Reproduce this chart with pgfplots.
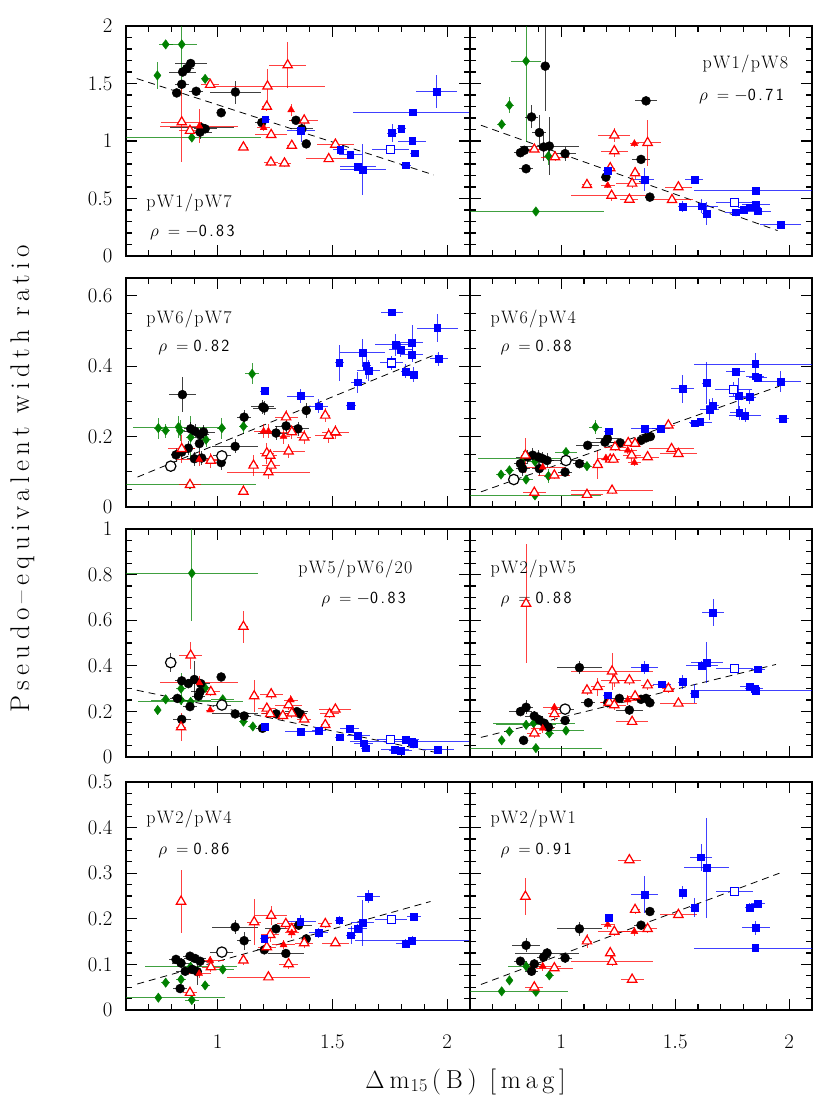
\documentclass[border=0pt]{standalone}
\usepackage{fontspec}
\usepackage{pgfplots}
\pgfplotsset{compat=1.18}
\definecolor{dgreen}{rgb}{0,0.5,0}
\pgfplotsset{
 eb/.style={error bars/x dir=both, error bars/x explicit, error bars/y dir=both, error bars/y explicit, error bars/error mark=none, error bars/error bar style={line width=0.9pt, opacity=0.75}},
 blk/.style={only marks, black, mark=*, mark size=4.5pt, eb},
 bopen/.style={only marks, black, mark=*, mark size=5.2pt, mark options={fill=white, draw=black, line width=1.2pt}, eb},
 grn/.style={only marks, dgreen, mark=diamond*, mark size=4.7pt, eb},
 ropen/.style={only marks, red, mark=triangle*, mark size=5.4pt, mark options={fill=white, draw=red, line width=1.2pt}, eb},
 rfill/.style={only marks, red, mark=triangle*, mark size=4pt, eb},
 blu/.style={only marks, blue, mark=square*, mark size=3.4pt, eb},
 bluopen/.style={only marks, blue, mark=square*, mark size=4pt, mark options={fill=white, draw=blue, line width=1.2pt}, eb},
 fitl/.style={black, line width=0.8pt, dash pattern=on 7pt off 5pt, no marks},
 panel/.style={scale only axis, anchor=north west,
   xmin=0.6, xmax=2.1, xtick={1,1.5,2},
   minor xtick={0.7,0.8,0.9,1.1,1.2,1.3,1.4,1.6,1.7,1.8,1.9},
   tick align=inside, major tick length=11pt, minor tick length=6pt,
   tick style={line width=1.1pt, black},
   axis line style={line width=1.4pt},
   tick label style={font=\fontsize{20}{20}\selectfont},
   yticklabel style={xshift=-10pt},
   xticklabel style={yshift=-22pt},
   clip=true},
 L/.style={width=344pt},
 R/.style={width=342pt, yticklabels={}},
 noX/.style={xticklabels={}},
 row1/.style={height=230pt, ymin=0, ymax=2, ytick={0,0.5,1,1.5,2}, minor y tick num=4},
 row2/.style={height=229pt, ymin=0, ymax=0.65, ytick={0,0.2,0.4,0.6}, minor y tick num=3},
 row3/.style={height=228pt, ymin=0, ymax=1, ytick={0,0.2,0.4,0.6,0.8,1}, minor y tick num=3},
 row4/.style={height=228pt, ymin=0, ymax=0.5, ytick={0,0.1,0.2,0.3,0.4,0.5}, minor y tick num=3},
}
\makeatletter
\newdimen\lsk
\def\lsw#1#2{\lsk=#1\relax\lsw@i#2\@nil}
\def\lsw@i#1{\ifx#1\@nil\else#1\kern\lsk\expandafter\lsw@i\fi}
\makeatother
\newcommand{\pl}[1]{{\fontsize{18}{18}\selectfont\lsw{1.3pt}{#1}}}
\newcommand{\rh}[2]{{\fontsize{17}{17}\selectfont$\rho$\hspace{9pt}{\sffamily=\hspace{5pt}#1\lsw{2.5pt}{#2}}}}
\begin{document}
\begin{tikzpicture}
\useasboundingbox (0,0) rectangle (830pt,-1106pt);
% ---------------- Panel 1: pW1/pW7
\begin{axis}[panel, L, row1, noX, at={(126pt,-26pt)}]
\addplot[fitl] coordinates {(0.647,1.543) (1.942,0.705)};
\addplot[grn] table[row sep=\\,x error=ex,y error=ey]{x y ex ey\\
0.773 1.84 0.03 0.03\\ 0.843 1.84 0.065 0.45\\ 0.737 1.57 0.01 0.12\\ 0.945 1.54 0.02 0.02\\ 0.887 1.03 0.3 0.03\\};
\addplot[blk] table[row sep=\\,x error=ex,y error=ey]{x y ex ey\\
0.821 1.418 0.02 0.02\\ 0.843 1.493 0.03 0.03\\ 0.847 1.60 0.06 0.03\\ 0.865 1.63 0.03 0.03\\ 0.882 1.674 0.07 0.03\\ 0.906 1.432 0.03 0.03\\ 0.93 1.115 0.14 0.05\\ 0.945 1.106 0.05 0.04\\ 0.923 1.077 0.05 0.06\\ 1.015 1.246 0.02 0.02\\ 1.077 1.426 0.11 0.1\\ 1.192 1.16 0.03 0.03\\ 1.341 1.18 0.03 0.03\\ 1.367 1.106 0.05 0.05\\ 1.386 0.975 0.02 0.02\\};
\addplot[ropen] table[row sep=\\,x error=ex,y error=ey]{x y ex ey\\
0.843 1.164 0.09 0.35\\ 0.879 1.09 0.05 0.05\\ 0.967 1.49 0.04 0.02\\ 1.112 0.946 0.02 0.02\\ 1.217 1.476 0.25 0.15\\ 1.214 1.30 0.02 0.04\\ 1.233 1.054 0.07 0.03\\ 1.232 0.815 0.03 0.03\\ 1.291 0.806 0.03 0.03\\ 1.305 1.66 0.08 0.2\\ 1.323 0.96 0.02 0.02\\ 1.377 1.18 0.06 0.04\\ 1.484 0.844 0.1 0.02\\ 1.513 0.97 0.08 0.02\\};
\addplot[rfill] table[row sep=\\,x error=ex,y error=ey]{x y ex ey\\
0.92 1.13 0.17 0.15\\ 1.32 1.27 0.01 0.05\\ 1.2 1.115 0.03 0.03\\};
\addplot[blu] table[row sep=\\,x error=ex,y error=ey]{x y ex ey\\
1.207 1.19 0.02 0.02\\ 1.363 1.09 0.06 0.1\\ 1.534 0.926 0.03 0.02\\ 1.578 0.882 0.05 0.02\\ 1.612 0.78 0.08 0.02\\ 1.632 0.75 0.1 0.22\\ 1.76 1.07 0.02 0.08\\ 1.80 1.11 0.02 0.03\\ 1.849 1.25 0.26 0.03\\ 1.848 1.0 0.06 0.03\\ 1.858 0.894 0.02 0.02\\ 1.821 0.79 0.02 0.01\\ 1.954 1.43 0.09 0.14\\};
\addplot[bluopen] table[row sep=\\,x error=ex,y error=ey]{x y ex ey\\ 1.753 0.923 0.08 0.02\\};
\node[anchor=base west] at (rel axis cs:0.049,0.209) {\pl{pW1/pW7}};
\node[anchor=base west] at (rel axis cs:0.06,0.083) {\rh{$-$}{0.83}};
\end{axis}
% ---------------- Panel 2: pW1/pW8
\begin{axis}[panel, R, row1, noX, at={(470pt,-26pt)}]
\addplot[fitl] coordinates {(0.648,1.137) (1.949,0.221)};
\addplot[grn] table[row sep=\\,x error=ex,y error=ey]{x y ex ey\\
0.846 1.695 0.065 0.7\\ 0.773 1.311 0.02 0.07\\ 0.739 1.145 0.02 0.03\\ 0.944 0.869 0.02 0.08\\ 0.889 0.387 0.3 0.03\\};
\addplot[blk] table[row sep=\\,x error=ex,y error=ey]{x y ex ey\\
0.93 1.651 0.02 0.39\\ 0.87 1.209 0.03 0.1\\ 0.904 1.073 0.03 0.15\\ 0.821 0.898 0.03 0.02\\ 0.838 0.919 0.03 0.02\\ 0.923 0.948 0.02 0.12\\ 0.948 0.956 0.13 0.25\\ 0.846 0.759 0.03 0.02\\ 1.017 0.89 0.05 0.06\\ 1.196 0.686 0.02 0.02\\ 1.35 0.84 0.04 0.02\\ 1.372 1.349 0.05 0.02\\ 1.389 0.512 0.02 0.02\\};
\addplot[ropen] table[row sep=\\,x error=ex,y error=ey]{x y ex ey\\
0.882 0.927 0.06 0.02\\ 0.973 0.86 0.06 0.03\\ 1.113 0.619 0.02 0.02\\ 1.215 0.765 0.02 0.05\\ 1.221 0.526 0.18 0.05\\ 1.233 1.049 0.07 0.06\\ 1.233 0.913 0.06 0.05\\ 1.299 0.491 0.04 0.02\\ 1.311 0.631 0.07 0.04\\ 1.324 0.721 0.02 0.05\\ 1.379 0.985 0.06 0.2\\ 1.486 0.488 0.09 0.02\\ 1.514 0.599 0.06 0.02\\};
\addplot[rfill] table[row sep=\\,x error=ex,y error=ey]{x y ex ey\\
1.204 0.613 0.03 0.02\\ 1.321 0.977 0.02 0.03\\};
\addplot[blu] table[row sep=\\,x error=ex,y error=ey]{x y ex ey\\
1.204 0.744 0.02 0.02\\ 1.365 0.663 0.04 0.1\\ 1.533 0.43 0.02 0.05\\ 1.584 0.666 0.04 0.02\\ 1.616 0.433 0.07 0.06\\ 1.638 0.366 0.02 0.1\\ 1.767 0.381 0.05 0.02\\ 1.8 0.401 0.05 0.02\\ 1.825 0.424 0.05 0.02\\ 1.854 0.57 0.27 0.02\\ 1.854 0.445 0.06 0.03\\ 1.862 0.39 0.06 0.02\\ 1.961 0.273 0.09 0.02\\};
\addplot[bluopen] table[row sep=\\,x error=ex,y error=ey]{x y ex ey\\ 1.759 0.468 0.08 0.02\\};
\node[anchor=base east] at (rel axis cs:0.944,0.817) {\pl{pW1/pW8}};
\node[anchor=base east] at (rel axis cs:0.935,0.678) {\rh{$-$}{0.71}};
\end{axis}
% ---------------- Panel 3: pW6/pW7
\begin{axis}[panel, L, row2, noX, at={(126pt,-278pt)}]
\addplot[fitl] coordinates {(0.65,0.085) (1.957,0.435)};
\addplot[grn] table[row sep=\\,x error=ex,y error=ey]{x y ex ey\\
0.741 0.224 0.02 0.03\\ 0.773 0.217 0.02 0.02\\ 0.829 0.227 0.2 0.03\\ 0.836 0.216 0.02 0.03\\ 0.882 0.198 0.02 0.06\\ 0.949 0.191 0.02 0.02\\ 1.018 0.224 0.02 0.03\\ 1.112 0.229 0.02 0.02\\ 1.15 0.378 0.03 0.03\\ 0.879 0.064 0.29 0.01\\};
\addplot[blk] table[row sep=\\,x error=ex,y error=ey]{x y ex ey\\
0.846 0.319 0.06 0.05\\ 0.818 0.148 0.02 0.02\\ 0.843 0.156 0.03 0.02\\ 0.872 0.167 0.03 0.02\\ 0.882 0.222 0.03 0.02\\ 0.901 0.215 0.05 0.02\\ 0.92 0.18 0.02 0.03\\ 0.923 0.205 0.04 0.02\\ 0.938 0.213 0.05 0.02\\ 0.898 0.137 0.03 0.02\\ 0.93 0.139 0.03 0.02\\ 1.015 0.126 0.02 0.02\\ 1.076 0.172 0.1 0.02\\ 1.115 0.255 0.03 0.02\\ 1.197 0.284 0.05 0.02\\ 1.203 0.281 0.05 0.02\\ 1.254 0.21 0.08 0.02\\ 1.298 0.23 0.05 0.02\\ 1.35 0.222 0.05 0.02\\ 1.386 0.274 0.02 0.02\\};
\addplot[bopen] table[row sep=\\,x error=ex,y error=ey]{x y ex ey\\
0.795 0.116 0.02 0.01\\ 1.018 0.145 0.04 0.01\\};
\addplot[ropen] table[row sep=\\,x error=ex,y error=ey]{x y ex ey\\
0.843 0.165 0.06 0.04\\ 0.879 0.063 0.05 0.01\\ 0.97 0.132 0.05 0.02\\ 1.112 0.044 0.02 0.01\\ 1.156 0.118 0.02 0.03\\ 1.214 0.153 0.03 0.03\\ 1.221 0.099 0.18 0.02\\ 1.233 0.118 0.04 0.02\\ 1.229 0.146 0.03 0.02\\ 1.298 0.255 0.05 0.02\\ 1.309 0.158 0.07 0.02\\ 1.323 0.213 0.05 0.02\\ 1.377 0.198 0.03 0.02\\ 1.469 0.26 0.02 0.02\\ 1.484 0.203 0.06 0.02\\ 1.513 0.213 0.06 0.02\\};
\addplot[rfill] table[row sep=\\,x error=ex,y error=ey]{x y ex ey\\
0.919 0.135 0.1 0.02\\ 1.2 0.215 0.04 0.02\\ 1.221 0.215 0.04 0.02\\ 1.287 0.2 0.03 0.02\\};
\addplot[blu] table[row sep=\\,x error=ex,y error=ey]{x y ex ey\\
1.204 0.329 0.02 0.01\\ 1.361 0.315 0.06 0.02\\ 1.44 0.286 0.04 0.02\\ 1.53 0.409 0.02 0.05\\ 1.581 0.288 0.02 0.01\\ 1.61 0.354 0.03 0.03\\ 1.631 0.438 0.1 0.04\\ 1.647 0.402 0.02 0.04\\ 1.658 0.388 0.05 0.03\\ 1.76 0.553 0.05 0.01\\ 1.775 0.46 0.09 0.03\\ 1.797 0.447 0.05 0.02\\ 1.818 0.385 0.02 0.02\\ 1.847 0.466 0.05 0.05\\ 1.847 0.433 0.05 0.02\\ 1.855 0.376 0.02 0.02\\ 1.957 0.508 0.09 0.04\\ 1.964 0.421 0.04 0.02\\};
\addplot[bluopen] table[row sep=\\,x error=ex,y error=ey]{x y ex ey\\ 1.756 0.409 0.05 0.02\\};
\node[anchor=base west] at (rel axis cs:0.049,0.803) {\pl{pW6/pW7}};
\node[anchor=base west] at (rel axis cs:0.084,0.677) {\rh{}{0.82}};
\end{axis}
% ---------------- Panel 4: pW6/pW4
\begin{axis}[panel, R, row2, noX, at={(470pt,-278pt)}]
\addplot[fitl] coordinates {(0.648,0.043) (1.957,0.343)};
\addplot[grn] table[row sep=\\,x error=ex,y error=ey]{x y ex ey\\
0.736 0.092 0.02 0.01\\ 0.773 0.104 0.02 0.01\\ 0.835 0.139 0.2 0.02\\ 0.885 0.129 0.03 0.02\\ 0.846 0.078 0.03 0.01\\ 0.944 0.088 0.02 0.02\\ 1.021 0.156 0.05 0.01\\ 1.113 0.116 0.02 0.01\\ 1.15 0.227 0.03 0.02\\ 0.885 0.033 0.29 0.005\\};
\addplot[blk] table[row sep=\\,x error=ex,y error=ey]{x y ex ey\\
0.831 0.109 0.03 0.02\\ 0.853 0.142 0.05 0.02\\ 0.875 0.147 0.03 0.02\\ 0.9 0.142 0.04 0.02\\ 0.919 0.137 0.03 0.02\\ 0.938 0.132 0.03 0.02\\ 0.821 0.123 0.03 0.02\\ 0.904 0.109 0.03 0.02\\ 1.017 0.099 0.03 0.01\\ 1.08 0.123 0.03 0.01\\ 1.116 0.175 0.05 0.01\\ 1.192 0.184 0.07 0.01\\ 1.203 0.194 0.05 0.01\\ 1.259 0.182 0.05 0.01\\ 1.35 0.189 0.03 0.01\\ 1.372 0.196 0.03 0.01\\ 1.391 0.2 0.02 0.01\\};
\addplot[bopen] table[row sep=\\,x error=ex,y error=ey]{x y ex ey\\
0.792 0.078 0.02 0.01\\ 1.021 0.132 0.08 0.01\\};
\addplot[ropen] table[row sep=\\,x error=ex,y error=ey]{x y ex ey\\
0.843 0.147 0.02 0.05\\ 0.882 0.041 0.05 0.01\\ 0.97 0.09 0.07 0.01\\ 1.113 0.035 0.07 0.01\\ 1.16 0.12 0.02 0.04\\ 1.215 0.135 0.04 0.01\\ 1.229 0.135 0.03 0.01\\ 1.223 0.047 0.18 0.01\\ 1.236 0.17 0.05 0.01\\ 1.294 0.182 0.03 0.01\\ 1.309 0.147 0.04 0.02\\ 1.324 0.18 0.04 0.01\\ 1.379 0.142 0.05 0.01\\ 1.47 0.232 0.03 0.01\\ 1.484 0.165 0.1 0.01\\ 1.514 0.151 0.08 0.01\\};
\addplot[rfill] table[row sep=\\,x error=ex,y error=ey]{x y ex ey\\
0.919 0.113 0.1 0.01\\ 1.196 0.139 0.04 0.01\\ 1.292 0.161 0.04 0.01\\ 1.321 0.126 0.03 0.01\\};
\addplot[blu] table[row sep=\\,x error=ex,y error=ey]{x y ex ey\\
1.207 0.215 0.02 0.01\\ 1.365 0.222 0.06 0.01\\ 1.438 0.222 0.04 0.01\\ 1.533 0.336 0.05 0.04\\ 1.584 0.238 0.02 0.01\\ 1.61 0.241 0.05 0.01\\ 1.638 0.352 0.02 0.06\\ 1.65 0.277 0.04 0.03\\ 1.664 0.288 0.03 0.02\\ 1.764 0.385 0.04 0.01\\ 1.777 0.315 0.04 0.05\\ 1.781 0.267 0.04 0.02\\ 1.806 0.26 0.07 0.02\\ 1.825 0.312 0.03 0.02\\ 1.851 0.406 0.27 0.03\\ 1.851 0.371 0.04 0.01\\ 1.862 0.367 0.04 0.01\\ 1.961 0.356 0.09 0.03\\ 1.971 0.25 0.03 0.01\\};
\addplot[bluopen] table[row sep=\\,x error=ex,y error=ey]{x y ex ey\\ 1.756 0.334 0.08 0.02\\};
\node[anchor=base west] at (rel axis cs:0.05,0.803) {\pl{pW6/pW4}};
\node[anchor=base west] at (rel axis cs:0.079,0.677) {\rh{}{0.88}};
\end{axis}
% ---------------- Panel 5: pW5/pW6/20
\begin{axis}[panel, L, row3, noX, at={(126pt,-529pt)}]
\addplot[fitl] coordinates {(0.647,0.293) (1.942,0.022)};
\addplot[grn] table[row sep=\\,x error=ex,y error=ey]{x y ex ey\\
0.887 0.806 0.29 0.21\\ 0.738 0.206 0.01 0.01\\ 0.773 0.253 0.02 0.02\\ 0.84 0.3 0.02 0.07\\ 0.84 0.25 0.13 0.02\\ 0.882 0.242 0.23 0.02\\ 0.945 0.303 0.02 0.02\\ 1.022 0.253 0.05 0.02\\ 1.112 0.155 0.02 0.01\\ 1.153 0.134 0.02 0.01\\};
\addplot[blk] table[row sep=\\,x error=ex,y error=ey]{x y ex ey\\
0.843 0.165 0.04 0.01\\ 0.824 0.257 0.03 0.02\\ 0.843 0.334 0.03 0.02\\ 0.872 0.322 0.03 0.02\\ 0.898 0.34 0.03 0.08\\ 0.879 0.221 0.03 0.02\\ 0.916 0.267 0.03 0.02\\ 0.926 0.322 0.04 0.02\\ 0.923 0.286 0.04 0.02\\ 1.015 0.351 0.01 0.01\\ 1.076 0.189 0.1 0.01\\ 1.115 0.18 0.03 0.01\\ 1.195 0.126 0.03 0.01\\ 1.255 0.189 0.06 0.01\\ 1.345 0.199 0.05 0.01\\ 1.36 0.189 0.03 0.01\\};
\addplot[bopen] table[row sep=\\,x error=ex,y error=ey]{x y ex ey\\
0.795 0.414 0.02 0.04\\ 1.018 0.228 0.04 0.01\\};
\addplot[ropen] table[row sep=\\,x error=ex,y error=ey]{x y ex ey\\
0.84 0.131 0.02 0.06\\ 0.882 0.446 0.05 0.06\\ 0.97 0.286 0.04 0.02\\ 1.112 0.572 0.02 0.07\\ 1.159 0.267 0.02 0.07\\ 1.214 0.213 0.04 0.02\\ 1.233 0.276 0.05 0.02\\ 1.229 0.189 0.04 0.02\\ 1.284 0.181 0.04 0.02\\ 1.309 0.228 0.06 0.02\\ 1.323 0.192 0.04 0.02\\ 1.377 0.165 0.03 0.01\\ 1.469 0.141 0.02 0.02\\ 1.488 0.189 0.04 0.02\\ 1.513 0.209 0.07 0.01\\};
\addplot[rfill] table[row sep=\\,x error=ex,y error=ey]{x y ex ey\\
0.92 0.325 0.17 0.03\\ 0.967 0.206 0.02 0.01\\ 1.319 0.25 0.03 0.02\\};
\addplot[blu] table[row sep=\\,x error=ex,y error=ey]{x y ex ey\\
1.204 0.134 0.02 0.01\\ 1.363 0.11 0.07 0.01\\ 1.44 0.116 0.03 0.01\\ 1.532 0.087 0.02 0.01\\ 1.575 0.125 0.04 0.01\\ 1.612 0.094 0.05 0.01\\ 1.636 0.061 0.04 0.01\\ 1.644 0.039 0.02 0.01\\ 1.772 0.032 0.06 0.01\\ 1.797 0.029 0.05 0.01\\ 1.818 0.075 0.06 0.01\\ 1.847 0.068 0.27 0.01\\ 1.855 0.058 0.02 0.01\\ 1.96 0.032 0.07 0.01\\};
\addplot[bluopen] table[row sep=\\,x error=ex,y error=ey]{x y ex ey\\ 1.753 0.078 0.06 0.01\\};
\node[anchor=base west] at (rel axis cs:0.491,0.807) {\pl{pW5/pW6/20}};
\node[anchor=base west] at (rel axis cs:0.558,0.675) {\rh{$-$}{0.83}};
\end{axis}
% ---------------- Panel 6: pW2/pW5
\begin{axis}[panel, R, row3, noX, at={(470pt,-529pt)}]
\addplot[fitl] coordinates {(0.648,0.086) (1.942,0.406)};
\addplot[grn] table[row sep=\\,x error=ex,y error=ey]{x y ex ey\\
0.739 0.073 0.01 0.01\\ 0.773 0.112 0.02 0.01\\ 0.846 0.141 0.13 0.02\\ 0.879 0.148 0.18 0.02\\ 0.889 0.039 0.29 0.01\\ 0.948 0.104 0.02 0.01\\ 1.021 0.116 0.08 0.01\\};
\addplot[blk] table[row sep=\\,x error=ex,y error=ey]{x y ex ey\\
0.821 0.199 0.05 0.02\\ 0.846 0.218 0.03 0.03\\ 0.835 0.073 0.02 0.01\\ 0.882 0.18 0.04 0.02\\ 0.904 0.163 0.03 0.02\\ 0.926 0.148 0.03 0.02\\ 0.944 0.131 0.03 0.02\\ 1.017 0.16 0.02 0.02\\ 1.08 0.392 0.1 0.03\\ 1.119 0.238 0.03 0.02\\ 1.204 0.238 0.03 0.02\\ 1.255 0.257 0.05 0.02\\ 1.299 0.206 0.06 0.02\\ 1.35 0.253 0.03 0.02\\ 1.372 0.257 0.02 0.02\\ 1.389 0.238 0.02 0.02\\};
\addplot[bopen] table[row sep=\\,x error=ex,y error=ey]{x y ex ey\\ 1.017 0.21 0.04 0.02\\};
\addplot[ropen] table[row sep=\\,x error=ex,y error=ey]{x y ex ey\\
0.846 0.673 0.01 0.26\\ 0.882 0.104 0.03 0.02\\ 0.97 0.189 0.03 0.03\\ 1.113 0.293 0.02 0.02\\ 1.16 0.308 0.03 0.04\\ 1.211 0.239 0.04 0.02\\ 1.223 0.376 0.18 0.08\\ 1.233 0.337 0.06 0.03\\ 1.233 0.228 0.05 0.02\\ 1.299 0.337 0.05 0.02\\ 1.311 0.155 0.07 0.01\\ 1.324 0.267 0.03 0.02\\ 1.379 0.315 0.03 0.02\\ 1.47 0.3 0.03 0.02\\ 1.514 0.235 0.08 0.01\\};
\addplot[rfill] table[row sep=\\,x error=ex,y error=ey]{x y ex ey\\
0.919 0.126 0.05 0.02\\ 0.97 0.218 0.05 0.02\\ 1.292 0.25 0.05 0.02\\};
\addplot[blu] table[row sep=\\,x error=ex,y error=ey]{x y ex ey\\
1.204 0.271 0.02 0.01\\ 1.365 0.392 0.06 0.03\\ 1.441 0.319 0.04 0.01\\ 1.533 0.329 0.02 0.03\\ 1.584 0.279 0.02 0.04\\ 1.616 0.402 0.07 0.02\\ 1.638 0.414 0.07 0.09\\ 1.666 0.634 0.05 0.06\\ 1.825 0.308 0.04 0.01\\ 1.847 0.3 0.04 0.01\\ 1.854 0.29 0.27 0.01\\ 1.862 0.385 0.03 0.01\\};
\addplot[bluopen] table[row sep=\\,x error=ex,y error=ey]{x y ex ey\\ 1.759 0.388 0.08 0.01\\};
\node[anchor=base west] at (rel axis cs:0.05,0.807) {\pl{pW2/pW5}};
\node[anchor=base west] at (rel axis cs:0.079,0.675) {\rh{}{0.88}};
\end{axis}
% ---------------- Panel 7: pW2/pW4
\begin{axis}[panel, L, row4, at={(126pt,-782pt)}]
\addplot[fitl] coordinates {(0.649,0.057) (1.928,0.238)};
\addplot[grn] table[row sep=\\,x error=ex,y error=ey]{x y ex ey\\
0.741 0.027 0.29 0.005\\ 0.773 0.06 0.02 0.005\\ 0.84 0.067 0.02 0.005\\ 0.882 0.095 0.2 0.005\\ 0.887 0.022 0.03 0.005\\ 0.945 0.054 0.02 0.005\\ 1.022 0.089 0.05 0.005\\};
\addplot[blk] table[row sep=\\,x error=ex,y error=ey]{x y ex ey\\
0.818 0.111 0.03 0.01\\ 0.84 0.103 0.04 0.01\\ 0.879 0.118 0.03 0.01\\ 0.901 0.113 0.05 0.01\\ 0.923 0.107 0.04 0.01\\ 0.836 0.047 0.03 0.01\\ 0.858 0.085 0.04 0.01\\ 0.889 0.089 0.03 0.01\\ 0.911 0.084 0.02 0.03\\ 1.076 0.182 0.1 0.015\\ 1.115 0.152 0.03 0.02\\ 1.203 0.132 0.03 0.01\\ 1.254 0.178 0.05 0.01\\ 1.297 0.124 0.08 0.01\\ 1.353 0.186 0.06 0.01\\ 1.386 0.156 0.02 0.01\\};
\addplot[bopen] table[row sep=\\,x error=ex,y error=ey]{x y ex ey\\ 1.018 0.127 0.05 0.01\\};
\addplot[ropen] table[row sep=\\,x error=ex,y error=ey]{x y ex ey\\
0.84 0.238 0.01 0.07\\ 0.879 0.038 0.03 0.005\\ 0.97 0.094 0.04 0.01\\ 1.112 0.109 0.02 0.01\\ 1.159 0.193 0.03 0.05\\ 1.214 0.138 0.04 0.01\\ 1.221 0.072 0.18 0.005\\ 1.233 0.207 0.07 0.02\\ 1.229 0.165 0.04 0.015\\ 1.297 0.189 0.04 0.01\\ 1.309 0.101 0.04 0.01\\ 1.323 0.178 0.03 0.01\\ 1.377 0.147 0.04 0.01\\ 1.469 0.189 0.03 0.01\\ 1.513 0.147 0.06 0.005\\};
\addplot[rfill] table[row sep=\\,x error=ex,y error=ey]{x y ex ey\\
0.919 0.08 0.05 0.01\\ 0.967 0.109 0.06 0.01\\ 1.287 0.143 0.05 0.01\\ 1.323 0.169 0.03 0.01\\};
\addplot[blu] table[row sep=\\,x error=ex,y error=ey]{x y ex ey\\
1.203 0.156 0.02 0.005\\ 1.36 0.194 0.07 0.015\\ 1.44 0.169 0.04 0.01\\ 1.53 0.197 0.02 0.01\\ 1.581 0.164 0.02 0.02\\ 1.61 0.178 0.04 0.01\\ 1.632 0.191 0.05 0.05\\ 1.658 0.249 0.05 0.015\\ 1.818 0.145 0.04 0.01\\ 1.847 0.152 0.25 0.01\\ 1.855 0.205 0.03 0.005\\};
\addplot[bluopen] table[row sep=\\,x error=ex,y error=ey]{x y ex ey\\ 1.756 0.198 0.07 0.005\\};
\node[anchor=base west] at (rel axis cs:0.049,0.82) {\pl{pW2/pW4}};
\node[anchor=base west] at (rel axis cs:0.084,0.684) {\rh{}{0.86}};
\end{axis}
% ---------------- Panel 8: pW2/pW1
\begin{axis}[panel, R, row4, at={(470pt,-782pt)}]
\addplot[fitl] coordinates {(0.648,0.056) (1.957,0.3)};
\addplot[grn] table[row sep=\\,x error=ex,y error=ey]{x y ex ey\\
0.739 0.041 0.29 0.005\\ 0.773 0.065 0.01 0.005\\ 0.846 0.096 0.08 0.01\\ 0.889 0.04 0.02 0.01\\ 0.948 0.076 0.02 0.005\\};
\addplot[blk] table[row sep=\\,x error=ex,y error=ey]{x y ex ey\\
0.846 0.142 0.06 0.015\\ 0.821 0.107 0.03 0.01\\ 0.87 0.085 0.03 0.01\\ 0.882 0.101 0.03 0.01\\ 0.923 0.116 0.03 0.01\\ 0.938 0.125 0.14 0.01\\ 1.017 0.114 0.03 0.01\\ 1.08 0.178 0.1 0.015\\ 1.35 0.186 0.03 0.01\\ 1.389 0.216 0.02 0.01\\};
\addplot[ropen] table[row sep=\\,x error=ex,y error=ey]{x y ex ey\\
0.843 0.249 0.01 0.04\\ 0.882 0.05 0.04 0.005\\ 0.97 0.092 0.08 0.005\\ 1.113 0.151 0.02 0.015\\ 1.215 0.125 0.02 0.01\\ 1.223 0.106 0.18 0.01\\ 1.233 0.172 0.07 0.01\\ 1.299 0.329 0.05 0.005\\ 1.311 0.067 0.05 0.005\\ 1.324 0.22 0.02 0.01\\ 1.379 0.178 0.04 0.01\\ 1.514 0.209 0.08 0.005\\};
\addplot[rfill] table[row sep=\\,x error=ex,y error=ey]{x y ex ey\\
0.919 0.096 0.08 0.01\\ 1.204 0.187 0.03 0.01\\ 1.321 0.172 0.05 0.01\\};
\addplot[blu] table[row sep=\\,x error=ex,y error=ey]{x y ex ey\\
1.207 0.202 0.01 0.005\\ 1.365 0.253 0.06 0.04\\ 1.533 0.258 0.01 0.015\\ 1.584 0.225 0.02 0.02\\ 1.613 0.335 0.05 0.03\\ 1.638 0.312 0.1 0.11\\ 1.825 0.225 0.02 0.01\\ 1.862 0.234 0.03 0.005\\ 1.854 0.18 0.06 0.015\\ 1.851 0.136 0.27 0.005\\};
\addplot[bluopen] table[row sep=\\,x error=ex,y error=ey]{x y ex ey\\ 1.759 0.26 0.08 0.005\\};
\node[anchor=base west] at (rel axis cs:0.05,0.82) {\pl{pW2/pW1}};
\node[anchor=base west] at (rel axis cs:0.079,0.68) {\rh{}{0.91}};
\end{axis}
% ---------------- axis titles
\node[rotate=90, anchor=base] at (29pt,-476pt) {\fontsize{27}{27}\selectfont\lsw{5.3pt}{Pseudo\textendash equivalent}\ \lsw{5.3pt}{width}\ \lsw{5.3pt}{ratio}};
\node[anchor=base] at (468pt,-1088pt) {\fontsize{26}{26}\selectfont$\Delta$\kern5pt m\kern1pt\textsubscript{15}\kern4pt\lsw{4.8pt}{(B)}\ \lsw{4.8pt}{[mag]}};
\end{tikzpicture}
\end{document}
